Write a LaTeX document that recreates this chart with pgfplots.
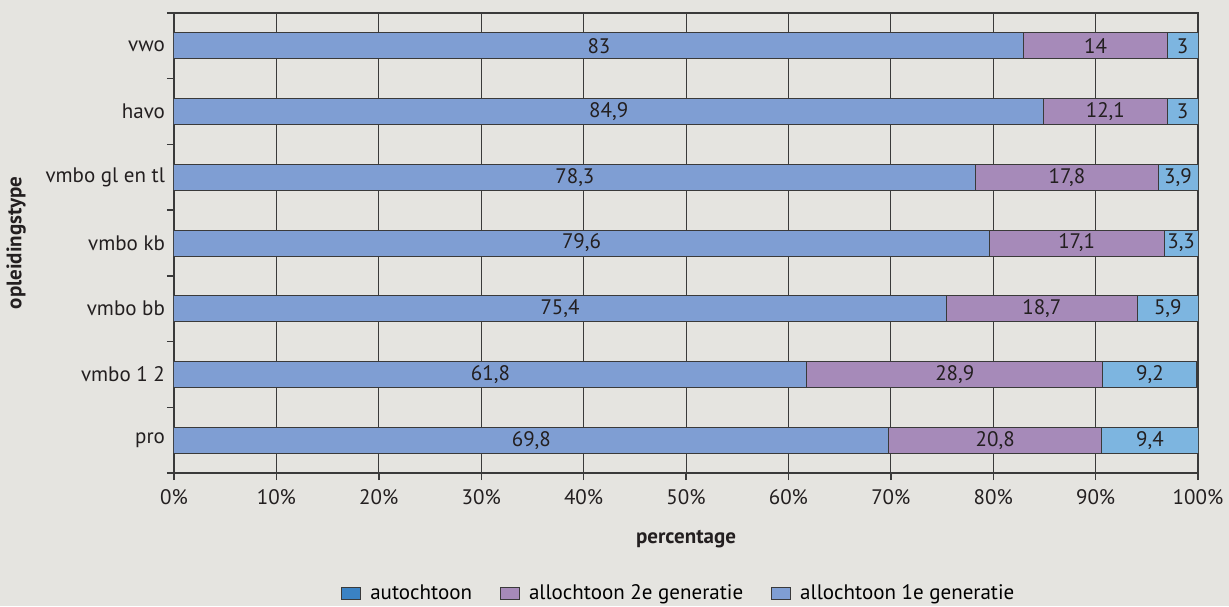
\documentclass[border=0pt]{standalone}
\usepackage{pgfplots}
\pgfplotsset{compat=1.18}
\usepackage{pgfplotstable}
\usepackage{fontspec}
\setmainfont{PT Sans}
\definecolor{bg}{HTML}{E5E4E0}
\definecolor{txt}{HTML}{231F20}
\definecolor{segA}{HTML}{7F9ED3}
\definecolor{segB}{HTML}{A68AB9}
\definecolor{segC}{HTML}{7DB5E0}
\definecolor{legA}{HTML}{3A82C4}
\definecolor{gridc}{HTML}{3A3A3A}
\pgfplotstableread{
cat a b c
0 69.8 20.8 9.4
1 61.8 28.9 9.2
2 75.4 18.7 5.9
3 79.6 17.1 3.3
4 78.3 17.8 3.9
5 84.9 12.1 3
6 83 14 3
}\data
\begin{document}
\begin{tikzpicture}
\fill[bg] (-87pt,-66.5pt) rectangle (527.5pt,236.5pt);
\begin{axis}[
  scale only axis, width=512pt, height=230pt,
  xbar stacked, bar width=13pt,
  xmin=0, xmax=100, ymin=-0.5, ymax=6.5,
  font=\fontsize{10.5}{12}\selectfont\color{txt},
  axis line style={gridc, line width=0.7pt},
  xtick={0,10,...,100},
  xticklabels={0\%,10\%,20\%,30\%,40\%,50\%,60\%,70\%,80\%,90\%,100\%},
  xtick pos=bottom, xtick align=outside, major tick length=3.5pt,
  xmajorgrids, major grid style={gridc, line width=0.5pt},
  ytick={0,...,6},
  yticklabels={pro,vmbo 1 2,vmbo bb,vmbo kb,vmbo gl en tl,havo,vwo},
  minor ytick={-0.5,0.5,...,6.5},
  ytick pos=left, ytick align=outside,
  y tick style={draw=none},
  minor y tick style={draw=gridc, line width=0.7pt},
  minor tick length=3.5pt,
  tick style={gridc, line width=0.7pt},
  yticklabel style={xshift=2.5pt},
  xticklabel style={yshift=-1pt},
  xlabel={\bfseries percentage},
  ylabel={\bfseries opleidingstype},
  xlabel style={yshift=-6pt},
  ylabel style={yshift=3pt},
  point meta=explicit,
  nodes near coords,
  every node near coord/.append style={anchor=center, text=txt,
     font=\fontsize{10.5}{12}\selectfont,
     /pgf/number format/.cd, use comma, fixed, precision=1, assume math mode=true},
  legend columns=3,
  legend style={draw=none, fill=none, at={(0.494,-0.262)}, anchor=center,
     font=\fontsize{10.5}{12}\selectfont,
     /tikz/every even column/.append style={column sep=12pt}},
  legend cell align=left,
]
\addplot[fill=segA, draw=gridc, line width=0.5pt,
  legend image code/.code={\draw[draw=gridc, fill=legA, line width=0.5pt] (0pt,-3.2pt) rectangle (9.5pt,3.2pt); \path (12pt,0pt);}]
  table[x=a, y=cat, meta=a] {\data};
\addplot[fill=segB, draw=gridc, line width=0.5pt,
  legend image code/.code={\draw[draw=gridc, fill=segB, line width=0.5pt] (0pt,-3.2pt) rectangle (9.5pt,3.2pt); \path (12pt,0pt);}]
  table[x=b, y=cat, meta=b] {\data};
\addplot[fill=segC, draw=gridc, line width=0.5pt,
  legend image code/.code={\draw[draw=gridc, fill=segA, line width=0.5pt] (0pt,-3.2pt) rectangle (9.5pt,3.2pt); \path (12pt,0pt);}]
  table[x=c, y=cat, meta=c] {\data};
\legend{autochtoon, allochtoon 2e generatie, allochtoon 1e generatie}
\end{axis}
\pgfresetboundingbox
\path[use as bounding box] (-87pt,-66.5pt) rectangle (527.5pt,236.5pt);
\end{tikzpicture}
\end{document}
